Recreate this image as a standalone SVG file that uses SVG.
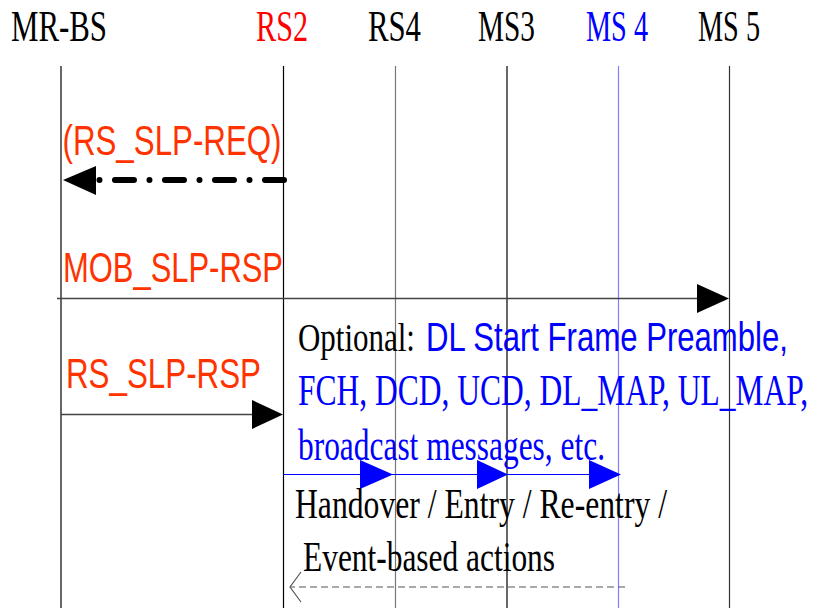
<svg xmlns="http://www.w3.org/2000/svg" width="816" height="608" viewBox="0 0 816 608">
<style>
.hdr{font-family:"Liberation Serif","Times New Roman",serif;font-size:44px;}
.msg{font-family:"Liberation Sans",Arial,sans-serif;font-size:42px;fill:#ff3300;}
.ser{font-family:"Liberation Serif","Times New Roman",serif;}
.sans{font-family:"Liberation Sans",Arial,sans-serif;}
.life{stroke-width:1.2;fill:none;}
</style>
<rect width="816" height="608" fill="#ffffff"/>
<g id="node-MR-BS">
<text class="hdr" x="11" y="41" textLength="96" lengthAdjust="spacingAndGlyphs" fill="#000">MR-BS</text>
<line class="life" x1="61" y1="66" x2="61" y2="608" stroke="#000"/>
</g>
<g id="node-RS2">
<text class="hdr" x="256" y="41" textLength="52" lengthAdjust="spacingAndGlyphs" fill="#ff0000">RS2</text>
<line class="life" x1="283.5" y1="66" x2="283.5" y2="608" stroke="#000"/>
</g>
<g id="node-RS4">
<text class="hdr" x="368" y="41" textLength="53" lengthAdjust="spacingAndGlyphs" fill="#000">RS4</text>
<line class="life" x1="395.5" y1="66" x2="395.5" y2="608" stroke="#777"/>
</g>
<g id="node-MS3">
<text class="hdr" x="478" y="41" textLength="57" lengthAdjust="spacingAndGlyphs" fill="#000">MS3</text>
<line class="life" x1="507" y1="66" x2="507" y2="608" stroke="#000"/>
</g>
<g id="node-MS4">
<text class="hdr" x="586" y="41" textLength="62" lengthAdjust="spacingAndGlyphs" fill="#0000ff">MS 4</text>
<line class="life" x1="618.5" y1="66" x2="618.5" y2="608" stroke="#8080ff"/>
</g>
<g id="node-MS5">
<text class="hdr" x="698" y="41" textLength="62" lengthAdjust="spacingAndGlyphs" fill="#000">MS 5</text>
<line class="life" x1="729.5" y1="66" x2="729.5" y2="608" stroke="#333"/>
</g>
<g id="connectors">
<path d="M284,180 L97,180" stroke="#000" stroke-width="6" stroke-linecap="round" stroke-dasharray="19 15.5 0.01 15.5" fill="none"/>
<polygon points="63,180 96,166 96,195" fill="#000"/>
<line x1="57" y1="298.5" x2="700" y2="298.5" stroke="#444" stroke-width="1.5"/>
<polygon points="729,298.5 697,284 697,313" fill="#000"/>
<line x1="61" y1="414.5" x2="254" y2="414.5" stroke="#444" stroke-width="1.5"/>
<polygon points="283,414.5 252,400 252,429" fill="#000"/>
<line x1="283" y1="474.5" x2="600" y2="474.5" stroke="#0000ff" stroke-width="1"/>
<polygon points="393,474.5 360,460 360,489" fill="#0000ff"/>
<polygon points="508,474.5 477,460 477,489" fill="#0000ff"/>
<polygon points="621,474.5 589,460 589,489" fill="#0000ff"/>
<line x1="625" y1="587" x2="291" y2="587" stroke="#555" stroke-width="1.2" stroke-dasharray="7 4"/>
<polyline points="301,572 290,587 301,602" fill="none" stroke="#555" stroke-width="1.2"/>
</g>
<g id="labels">
<text class="msg" x="62.5" y="155" textLength="219" lengthAdjust="spacingAndGlyphs">(RS_SLP-REQ)</text>
<text class="msg" x="63" y="282" textLength="220" lengthAdjust="spacingAndGlyphs">MOB_SLP-RSP</text>
<text class="msg" x="66" y="388" textLength="195" lengthAdjust="spacingAndGlyphs">RS_SLP-RSP</text>
<text class="ser" transform="translate(298,351) scale(0.755,1)" font-size="41" fill="#000">Optional:</text>
<text class="sans" transform="translate(426,351) scale(0.778,1)" font-size="40" fill="#0000ff">DL Start Frame Preamble,</text>
<text class="ser" transform="translate(298,404.5) scale(0.716,1)" font-size="44" fill="#0000ff">FCH, DCD, UCD, DL_MAP, UL_MAP,</text>
<text class="ser" x="298" y="460" font-size="44" textLength="307" lengthAdjust="spacingAndGlyphs" fill="#0000ff">broadcast messages, etc.</text>
<text class="ser" x="295" y="518" font-size="42" textLength="372" lengthAdjust="spacingAndGlyphs" fill="#000">Handover / Entry / Re-entry /</text>
<text class="ser" x="303" y="571" font-size="42" textLength="252" lengthAdjust="spacingAndGlyphs" fill="#000">Event-based actions</text>
</g>
</svg>
